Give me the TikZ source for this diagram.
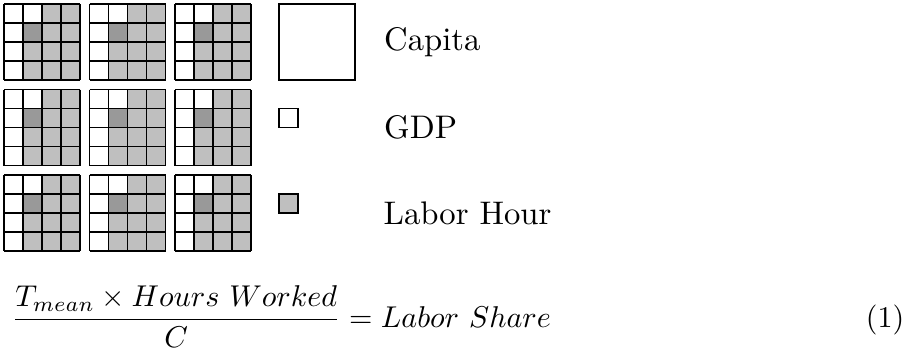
\documentclass[tikz,border=0pt]{standalone}
\usepackage{amsmath}
\usepackage{graphicx}
\begin{document}
\begin{tikzpicture}[x=0.306pt,y=-0.306pt,
  cellline/.style={draw=black,line width=0.4pt},
  lightcell/.style={fill=gray!50},
  darkcell/.style={fill=gray!80},
  label/.style={inner sep=0pt,anchor=west,font=\normalsize}]
\useasboundingbox (0,0) rectangle (909,354);
% nine 4x4 grids
\foreach \i in {0,1,2}{
  \foreach \j in {0,1,2}{
    \begin{scope}[shift={({4+85.5*\i},{4+85.5*\j})}]
      \fill[lightcell] (38,0) rectangle (76,19);
      \fill[lightcell] (19,19) rectangle (76,76);
      \fill[darkcell] (19,19) rectangle (38,38);
      \foreach \k in {0,19,38,57,76}{
        \draw[cellline] (\k,0) -- (\k,76);
        \draw[cellline] (0,\k) -- (76,\k);
      }
    \end{scope}
  }
}
% legend squares
\draw[cellline] (279,4) rectangle (355,80);
\draw[cellline] (279,108.5) rectangle (298,127.5);
\draw[cellline,lightcell] (279,194) rectangle (298,213);
% legend labels
\node[label] (capita) at (383.5,42) {Capita};
\node[label] (gdp) at (383.5,127.5) {GDP};
\node[label] (labor) at (383,213) {Labor Hour};
% equation
\node[inner sep=0pt,anchor=base west] (eq) at (11,327.3)
  {\scalebox{0.92}{$\displaystyle\frac{T_{mean}\times Hours\ Worked}{C} = Labor\ Share$}};
\node[inner sep=0pt,anchor=base east] (eqnum) at (905,327.3) {\scalebox{0.92}{(1)}};
\end{tikzpicture}
\end{document}
